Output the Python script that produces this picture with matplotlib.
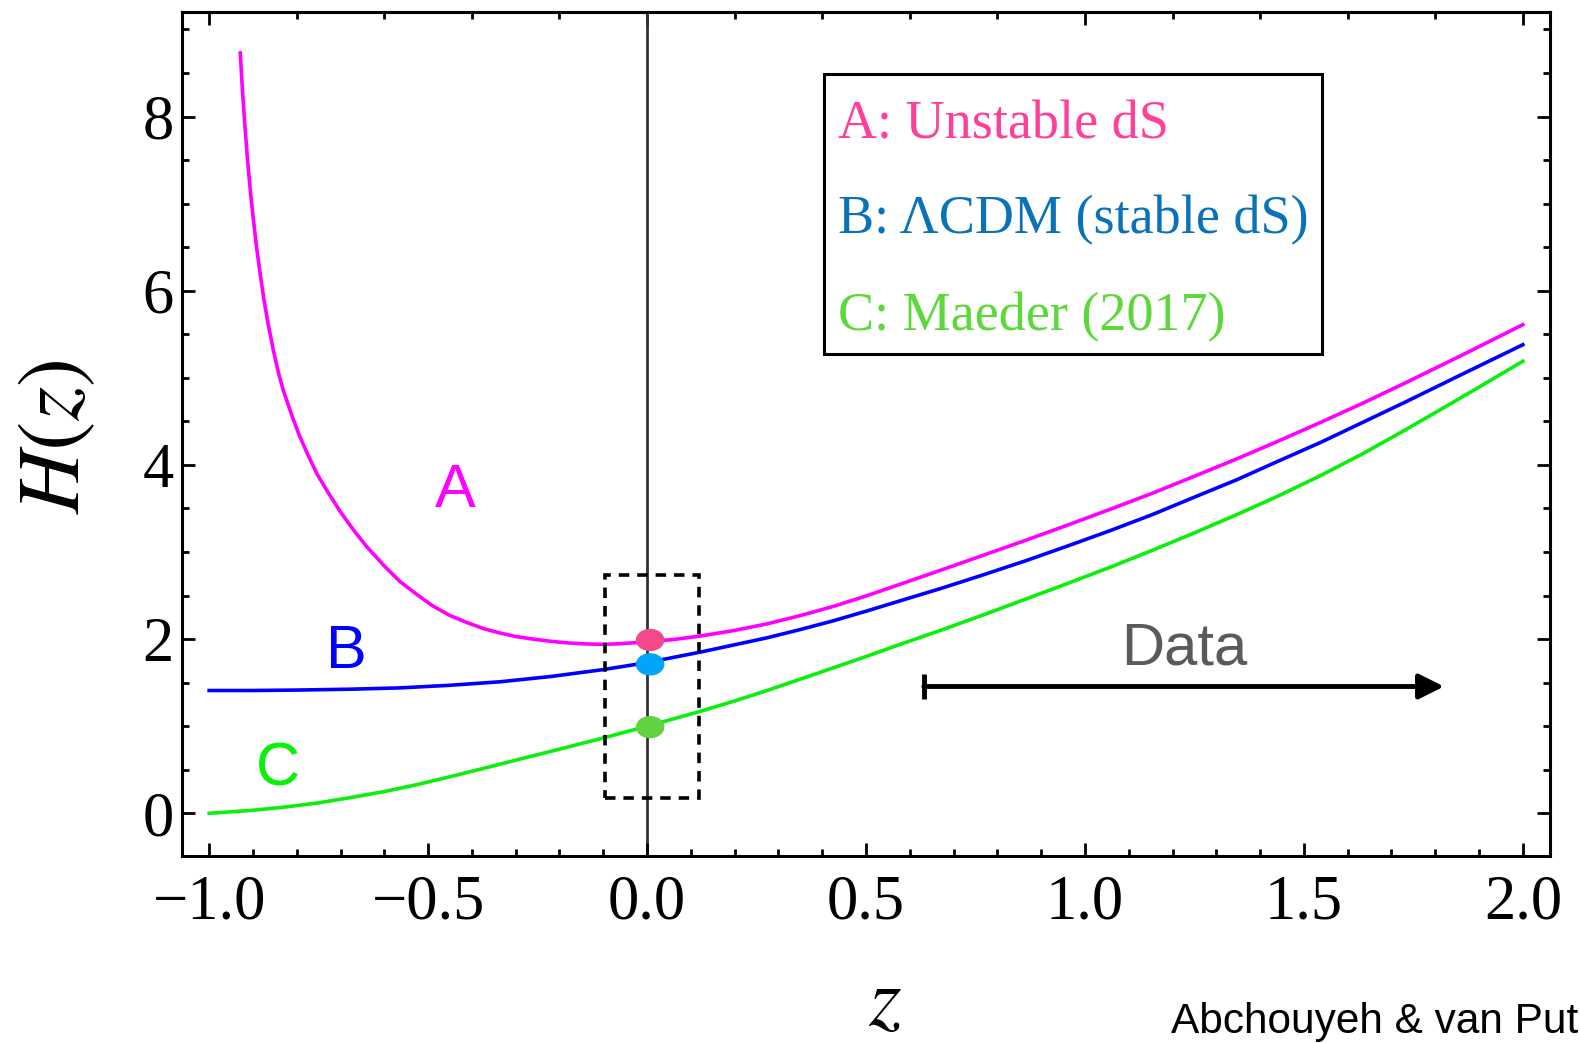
import matplotlib
matplotlib.use("Agg")
import matplotlib.pyplot as plt
from matplotlib.patches import Rectangle, Ellipse
from matplotlib.ticker import MultipleLocator

# curve A: unstable dS
z_A = [-0.929, -0.924, -0.918, -0.912, -0.906, -0.900, -0.892, -0.884, -0.875,
       -0.865, -0.854, -0.842, -0.831, -0.812, -0.795, -0.775, -0.753, -0.728,
       -0.700, -0.670, -0.640, -0.600, -0.564, -0.525, -0.489, -0.45, -0.411,
       -0.373, -0.336, -0.30, -0.260, -0.22, -0.183, -0.145, -0.107, -0.07,
       -0.031, 0.0, 0.06, 0.121, 0.2, 0.274, 0.35, 0.425, 0.50, 0.578, 0.67,
       0.769, 0.865, 0.961, 1.06, 1.154, 1.25, 1.347, 1.44, 1.539, 1.635,
       1.731, 1.865, 2.0]
H_A = [8.73, 8.30, 7.87, 7.48, 7.15, 6.86, 6.51, 6.21, 5.90,
       5.61, 5.33, 5.06, 4.86, 4.58, 4.35, 4.12, 3.89, 3.68,
       3.46, 3.25, 3.06, 2.84, 2.66, 2.51, 2.38, 2.27, 2.19,
       2.12, 2.07, 2.03, 2.00, 1.975, 1.957, 1.946, 1.94, 1.945,
       1.958, 1.97, 1.995, 2.035, 2.10, 2.175, 2.27, 2.375, 2.495, 2.63, 2.79,
       2.965, 3.135, 3.31, 3.495, 3.675, 3.87, 4.07, 4.27, 4.49, 4.71,
       4.94, 5.27, 5.61]

# curve B: LambdaCDM
z_B = [-1.0, -0.9, -0.8, -0.678, -0.564, -0.45, -0.336, -0.221, -0.1, 0.0,
       0.05, 0.121, 0.2, 0.274, 0.35, 0.425, 0.5, 0.578, 0.67, 0.769, 0.865,
       0.961, 1.06, 1.154, 1.25, 1.347, 1.44, 1.539, 1.635, 1.731, 1.865, 2.0]
H_B = [1.41, 1.41, 1.415, 1.425, 1.44, 1.47, 1.51, 1.57, 1.65, 1.73,
       1.78, 1.85, 1.935, 2.015, 2.11, 2.21, 2.32, 2.44, 2.58, 2.74, 2.90,
       3.07, 3.25, 3.43, 3.63, 3.83, 4.04, 4.26, 4.49, 4.72, 5.05, 5.38]

# curve C: Maeder (2017)
z_C = [-1.0, -0.9, -0.831, -0.75, -0.678, -0.6, -0.525, -0.45, -0.374, -0.3,
       -0.221, -0.1, 0.0, 0.05, 0.121, 0.2, 0.274, 0.35, 0.425, 0.5, 0.578,
       0.67, 0.769, 0.865, 0.961, 1.06, 1.154, 1.25, 1.347, 1.44, 1.539,
       1.635, 1.731, 1.865, 2.0]
H_C = [0.0, 0.035, 0.07, 0.12, 0.18, 0.25, 0.33, 0.42, 0.515, 0.61,
       0.71, 0.865, 1.0, 1.07, 1.17, 1.29, 1.41, 1.54, 1.67, 1.80, 1.94,
       2.10, 2.28, 2.46, 2.64, 2.83, 3.02, 3.22, 3.43, 3.64, 3.88,
       4.13, 4.40, 4.79, 5.19]

# today's values marked by dots at z = 0
dot_z = 0.007
dot_H = [1.99, 1.71, 0.99]

x_ticks = [-1.0, -0.5, 0.0, 0.5, 1.0, 1.5, 2.0]
x_ticklabels = ["\u22121.0", "\u22120.5", "0.0", "0.5", "1.0", "1.5", "2.0"]
y_ticks = [0, 2, 4, 6, 8]
y_ticklabels = ["0", "2", "4", "6", "8"]

legend_lines = ["A: Unstable dS", "B: \u039bCDM (stable dS)", "C: Maeder (2017)"]
legend_colors = ["#FF3F98", "#0A72B8", "#5CD83A"]
line_colors = ["#FF00FF", "#0000FF", "#0BEF0B"]
dot_colors = ["#F2498A", "#00A4F8", "#62D340"]

# "Data" range arrow
data_start, data_end, data_level = 0.632, 1.820, 1.456

plt.rcParams["font.family"] = ["Liberation Serif", "DejaVu Serif"]
plt.rcParams["mathtext.fontset"] = "stix"

fig = plt.figure(figsize=(15.8, 10.43), dpi=100)
ax = fig.add_axes([0.1152, 0.1793, 0.8658, 0.8092])

ax.axvline(0.0, color="#333333", lw=2, zorder=1)

ax.plot(z_A, H_A, color=line_colors[0], lw=2.6, zorder=3)
ax.plot(z_B, H_B, color=line_colors[1], lw=2.6, zorder=3)
ax.plot(z_C, H_C, color=line_colors[2], lw=2.6, zorder=3)

for h, c in zip(dot_H, dot_colors):
    ax.add_patch(Ellipse((dot_z, h), 0.062, 0.24, color=c, zorder=5))

ax.add_patch(Rectangle((-0.096, 0.18), 0.215, 2.56, fill=False, ec="black",
                       lw=2.6, linestyle=(0, (2.9, 2.2)), zorder=4))

# curve labels
sans = ["Liberation Sans", "DejaVu Sans"]
ax.text(-0.438, 3.70, "A", color=line_colors[0], fontsize=44, family=sans,
        ha="center", va="center")
ax.text(-0.687, 1.85, "B", color=line_colors[1], fontsize=44, family=sans,
        ha="center", va="center")
ax.text(-0.842, 0.50, "C", color=line_colors[2], fontsize=44, family=sans,
        ha="center", va="center")

# data arrow
ax.annotate("", xy=(data_end, data_level), xytext=(data_start, data_level),
            arrowprops=dict(arrowstyle="-|>", lw=3.5, color="black",
                            mutation_scale=38, shrinkA=0, shrinkB=0))
ax.plot([data_start, data_start], [data_level - 0.145, data_level + 0.145],
        color="black", lw=3.5, solid_capstyle="butt")
ax.text(1.226, 1.71, "Data", color="#5A5A5A", fontsize=43, family=sans,
        ha="center", va="baseline")

# legend box
ax.add_patch(Rectangle((0.469, 0.5948), 0.364, 0.3317, transform=ax.transAxes,
                       fill=False, ec="black", lw=2.2, zorder=6))
for text, c, yb in zip(legend_lines, legend_colors, [0.8507, 0.738, 0.623]):
    ax.text(0.4795, yb, text, color=c, fontsize=39, transform=ax.transAxes,
            ha="left", va="baseline")

ax.set_xlim(-1.062, 2.062)
ax.set_ylim(-0.49, 9.2)
ax.set_xticks(x_ticks)
ax.set_xticklabels(x_ticklabels)
ax.set_yticks(y_ticks)
ax.set_yticklabels(y_ticklabels)
ax.xaxis.set_minor_locator(MultipleLocator(0.1))
ax.yaxis.set_minor_locator(MultipleLocator(0.5))
ax.tick_params(which="both", direction="in", right=True, top=False,
               width=2, labelsize=45)
ax.tick_params(which="major", length=9.5)
ax.tick_params(which="minor", length=5)
ax.tick_params(axis="x", pad=13)
ax.tick_params(axis="y", pad=6)
for s in ax.spines.values():
    s.set_linewidth(2.2)

top = ax.secondary_xaxis("top")
top.set_xticks([-1, 0, 1, 2])
top.xaxis.set_minor_locator(MultipleLocator(0.2))
top.tick_params(which="both", direction="in", width=2, labeltop=False)
top.tick_params(which="major", length=9.5)
top.tick_params(which="minor", length=5)
top.spines["top"].set_linewidth(2.2)

fig.text(58 / 1580, 1 - 437 / 1043, r"$H(z)$", rotation=90, fontsize=63,
         ha="center", va="center")
fig.text(885 / 1580, 0.0, r"$z$", fontsize=60,
         ha="center", va="bottom")
fig.text(1578 / 1580, 1 - 1033 / 1043, "Abchouyeh & van Put", fontsize=30.5,
         family=sans, ha="right", va="baseline")

fig.savefig("out.png", dpi=100)
